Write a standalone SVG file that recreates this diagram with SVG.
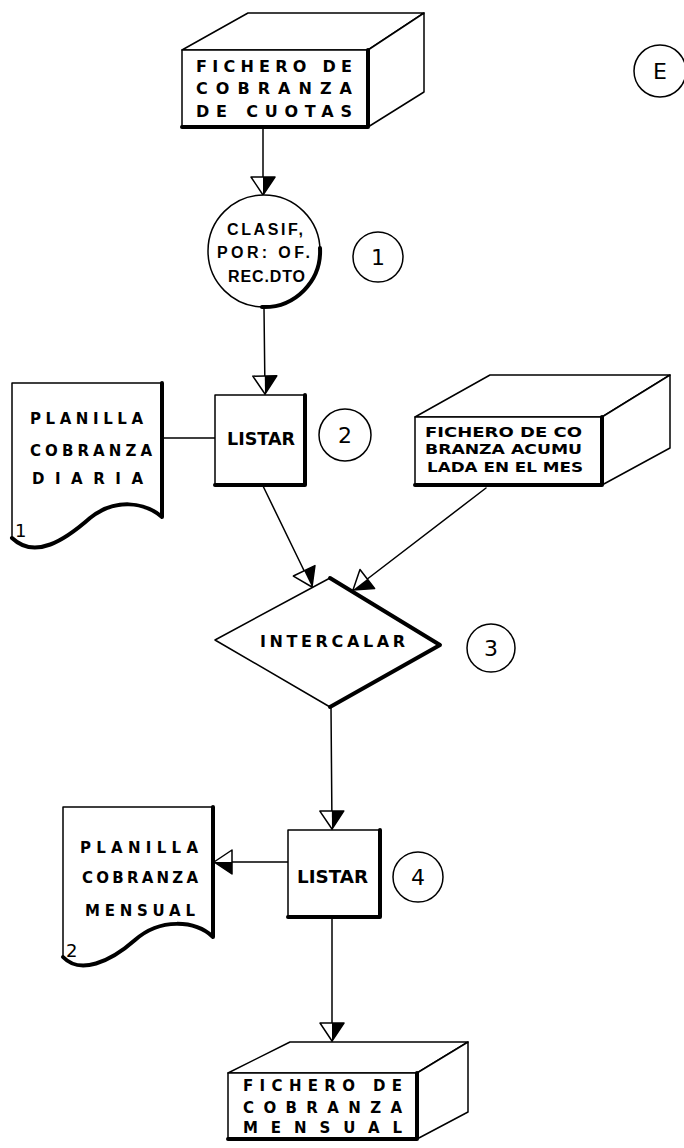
<svg xmlns="http://www.w3.org/2000/svg" width="684" height="1148" viewBox="0 0 684 1148">
  <style>
    .ln { fill: none; stroke: #000; stroke-width: 1.5; stroke-linejoin: round; stroke-linecap: round; }
    .face { fill: #fff; stroke: #000; stroke-width: 1.5; stroke-linejoin: round; }
    .heavy { fill: none; stroke: #000; stroke-width: 4; stroke-linejoin: round; stroke-linecap: round; }
    .lbl { font-family: "DejaVu Sans", "Liberation Sans", sans-serif; font-weight: bold; fill: #000; }
    .lbl2 { font-family: "Liberation Sans", Arial, sans-serif; font-weight: bold; fill: #000; }
    .num { font-family: "DejaVu Sans", sans-serif; font-size: 22px; fill: #000; text-anchor: middle; }
    .tag { font-family: "DejaVu Sans", sans-serif; font-size: 18px; fill: #000; }
  </style>
  <defs>
    <!-- half-filled open arrowhead, tip at the line end -->
    <marker id="arrow" markerUnits="userSpaceOnUse" markerWidth="30" markerHeight="30"
            viewBox="-20 -15 30 30" refX="0" refY="0" orient="auto" overflow="visible">
      <path d="M-18,-12 L0,0 L-18,12 Z" fill="#fff" stroke="#000" stroke-width="1.5" stroke-linejoin="round"/>
      <path d="M-18,0 L-18,-12 L0,0 Z" fill="#000"/>
    </marker>
  </defs>

  <rect width="684" height="1148" fill="#fff"/>

  <!-- connectors -->
  <g id="connectors">
    <line class="ln" x1="263" y1="128" x2="263" y2="195" marker-end="url(#arrow)"/>
    <line class="ln" x1="264" y1="308" x2="265" y2="394" marker-end="url(#arrow)"/>
    <line class="ln" x1="162" y1="438" x2="215" y2="438"/>
    <line class="ln" x1="263" y1="486" x2="312" y2="587" marker-end="url(#arrow)"/>
    <line class="ln" x1="486" y1="488" x2="353" y2="590" marker-end="url(#arrow)"/>
    <line class="ln" x1="331" y1="707" x2="332" y2="829" marker-end="url(#arrow)"/>
    <line class="ln" x1="288" y1="862" x2="214" y2="862" marker-end="url(#arrow)"/>
    <line class="ln" x1="332" y1="918" x2="332" y2="1041" marker-end="url(#arrow)"/>
  </g>

  <!-- input file: fichero de cobranza de cuotas -->
  <g id="file-cuotas">
    <polygon class="face" points="182,50 248,13 424,13 368,50"/>
    <polygon class="face" points="368,50 424,13 424,92 368,127"/>
    <rect class="face" x="182" y="50" width="186" height="77"/>
    <polyline class="heavy" points="182,127 368,127 368,50"/>
    <text class="lbl" font-size="16" x="196" y="72" textLength="156" lengthAdjust="spacing">FICHERO DE</text>
    <text class="lbl" font-size="16" x="196" y="94" textLength="156" lengthAdjust="spacing">COBRANZA</text>
    <text class="lbl" font-size="16" x="196" y="117" textLength="156" lengthAdjust="spacing">DE CUOTAS</text>
  </g>

  <!-- step 1: sort -->
  <g id="sort">
    <circle class="face" cx="264" cy="251" r="56"/>
    <path class="heavy" d="M320,248 A56,56 0 0 1 262,307"/>
    <text class="lbl2" font-size="16" x="227" y="235" textLength="76" lengthAdjust="spacing">CLASIF,</text>
    <text class="lbl2" font-size="16" x="217" y="258" textLength="93" lengthAdjust="spacing">POR: OF.</text>
    <text class="lbl2" font-size="16" x="228" y="282" textLength="77" lengthAdjust="spacing">REC.DTO</text>
  </g>
  <g id="step-1">
    <circle class="ln" cx="378" cy="257" r="25"/>
    <text class="num" x="378" y="265">1</text>
  </g>

  <!-- step 2: list -->
  <g id="list-1">
    <rect class="face" x="215" y="395" width="90" height="90"/>
    <polyline class="heavy" points="215,485 305,485 305,395"/>
    <text class="lbl" font-size="17" x="227" y="445" textLength="68" lengthAdjust="spacingAndGlyphs">LISTAR</text>
  </g>
  <g id="step-2">
    <circle class="ln" cx="345" cy="435" r="26"/>
    <text class="num" x="345" y="443">2</text>
  </g>

  <!-- report: planilla cobranza diaria -->
  <g id="report-daily">
    <path class="face" d="M12,383 H162 V517 C145,502 115,498 90,518 C65,540 35,560 12,538 Z"/>
    <path class="heavy" d="M162,383 V517 C145,502 115,498 90,518 C65,540 35,560 12,538"/>
    <text class="lbl" font-size="15" x="30" y="424" textLength="113" lengthAdjust="spacing">PLANILLA</text>
    <text class="lbl" font-size="15" x="30" y="456" textLength="122" lengthAdjust="spacing">COBRANZA</text>
    <text class="lbl" font-size="15" x="32" y="484" textLength="111" lengthAdjust="spacing">DIARIA</text>
    <text class="tag" x="15" y="537">1</text>
  </g>

  <!-- accumulated monthly file -->
  <g id="file-acumulada">
    <polygon class="face" points="415,417 490,375 670,375 602,417"/>
    <polygon class="face" points="602,417 670,375 670,448 602,485"/>
    <rect class="face" x="415" y="417" width="187" height="68"/>
    <polyline class="heavy" points="415,485 602,485 602,417"/>
    <text class="lbl" font-size="14" x="425" y="437" textLength="157" lengthAdjust="spacingAndGlyphs">FICHERO DE CO</text>
    <text class="lbl" font-size="14" x="425" y="454" textLength="157" lengthAdjust="spacingAndGlyphs">BRANZA ACUMU</text>
    <text class="lbl" font-size="14" x="427" y="472" textLength="156" lengthAdjust="spacingAndGlyphs">LADA EN EL MES</text>
  </g>

  <!-- step 3: merge -->
  <g id="merge">
    <polygon class="face" points="330,578 440,645 330,707 215,640"/>
    <polyline class="heavy" points="330,578 440,645 330,707"/>
    <text class="lbl" font-size="16" x="260" y="647" textLength="145" lengthAdjust="spacing">INTERCALAR</text>
  </g>
  <g id="step-3">
    <circle class="ln" cx="491" cy="648" r="24"/>
    <text class="num" x="491" y="656">3</text>
  </g>

  <!-- step 4: list -->
  <g id="list-2">
    <rect class="face" x="288" y="830" width="92" height="87"/>
    <polyline class="heavy" points="288,917 380,917 380,830"/>
    <text class="lbl" font-size="17" x="297" y="883" textLength="71" lengthAdjust="spacingAndGlyphs">LISTAR</text>
  </g>
  <g id="step-4">
    <circle class="ln" cx="418" cy="877" r="25"/>
    <text class="num" x="418" y="885">4</text>
  </g>

  <!-- report: planilla cobranza mensual -->
  <g id="report-monthly">
    <path class="face" d="M63,807 H213 V937 C195,920 160,918 135,940 C110,962 80,975 63,957 Z"/>
    <path class="heavy" d="M213,807 V937 C195,920 160,918 135,940 C110,962 80,975 63,957"/>
    <text class="lbl" font-size="15" x="80" y="853" textLength="118" lengthAdjust="spacing">PLANILLA</text>
    <text class="lbl" font-size="15" x="82" y="883" textLength="116" lengthAdjust="spacing">COBRANZA</text>
    <text class="lbl" font-size="15" x="85" y="916" textLength="110" lengthAdjust="spacing">MENSUAL</text>
    <text class="tag" x="66" y="957">2</text>
  </g>

  <!-- output file: fichero de cobranza mensual -->
  <g id="file-mensual">
    <polygon class="face" points="228,1073 290,1042 468,1042 417,1073"/>
    <polygon class="face" points="417,1073 468,1042 468,1112 417,1139"/>
    <rect class="face" x="228" y="1073" width="189" height="66"/>
    <polyline class="heavy" points="228,1139 417,1139 417,1073"/>
    <text class="lbl" font-size="15" x="243" y="1091" textLength="159" lengthAdjust="spacing">FICHERO DE</text>
    <text class="lbl" font-size="15" x="243" y="1113" textLength="159" lengthAdjust="spacing">COBRANZA</text>
    <text class="lbl" font-size="15" x="243" y="1133" textLength="159" lengthAdjust="spacing">MENSUAL</text>
  </g>

  <!-- sheet marker -->
  <g id="sheet-e">
    <circle class="ln" cx="660" cy="71" r="26"/>
    <text class="num" x="660" y="79">E</text>
  </g>
</svg>
